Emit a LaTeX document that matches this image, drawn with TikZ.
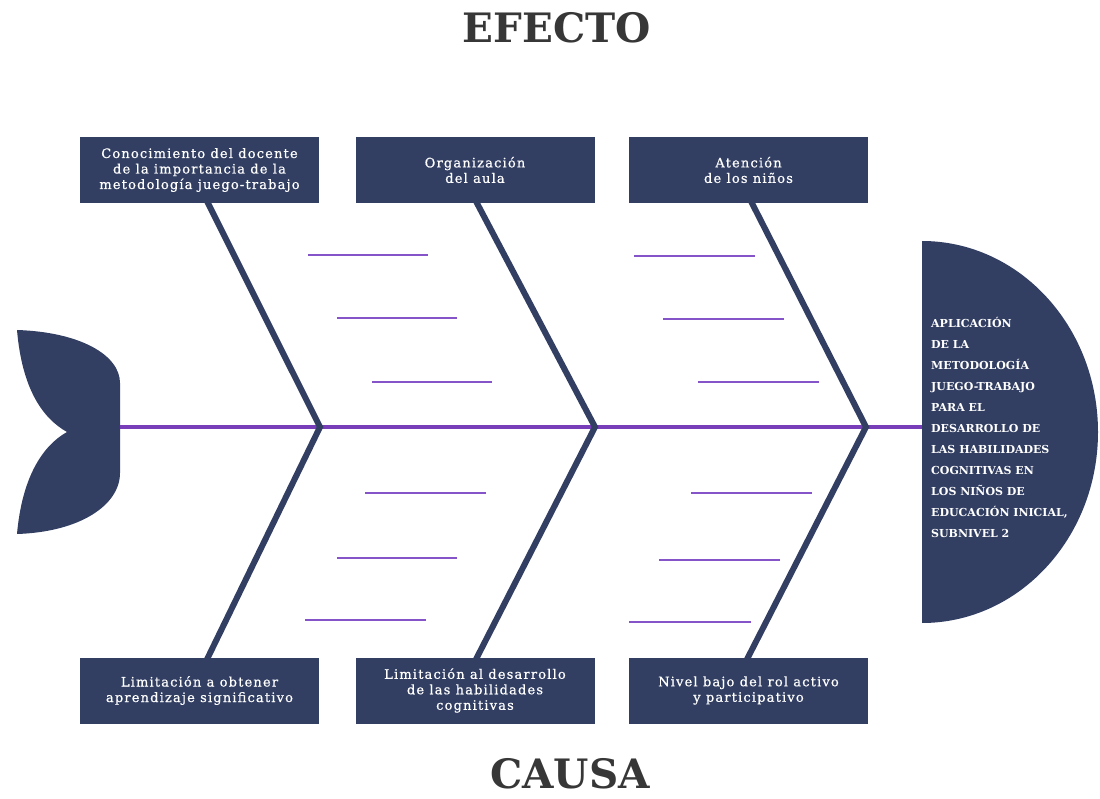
\documentclass[tikz,border=0pt]{standalone}
\usepackage{fontspec}
\setmainfont{DejaVu Serif}
\newfontfamily\boxfont{DejaVu Serif}[LetterSpace=9,FakeBold=0.6]
\newfontfamily\headfont{DejaVu Serif Bold}
\usetikzlibrary{positioning}
\definecolor{navy}{RGB}{50,63,99}
\definecolor{fishpurple}{RGB}{120,62,185}
\definecolor{ribpurple}{RGB}{132,84,200}
\definecolor{titlegray}{RGB}{55,55,55}
\tikzset{box/.style={fill=navy,text=white,minimum width=239pt,minimum height=66pt,inner sep=0pt,align=center,font=\boxfont\fontsize{13}{15.5}\selectfont}}
\tikzset{bone/.style={navy,line width=6pt,line join=miter,shorten <=-4pt,shorten >=-4pt}}
\tikzset{spine/.style={fishpurple,line width=4.5pt}}
\tikzset{rib/.style={ribpurple,line width=2.2pt}}
\tikzset{bigtitle/.style={titlegray,font=\bfseries\fontsize{40.5}{41}\selectfont,inner sep=0pt,anchor=base}}
\tikzset{headtxt/.style={text=white,font=\headfont\fontsize{11}{13}\selectfont,inner sep=0pt,anchor=base west}}

\begin{document}
\begin{tikzpicture}[x=1pt,y=1pt]
  \useasboundingbox (0,0) rectangle (1100,-799);
  % titulos
  \node[bigtitle] (efecto) at (557,-43) {EFECTO};
  \node[bigtitle] (causa) at (570,-788) {CAUSA};
  % cola y cabeza
  \fill[navy] (17,-330) .. controls (80,-332) and (120,-355) .. (120,-383) -- (120,-473)
    .. controls (120,-505) and (80,-532) .. (17,-534)
    .. controls (22,-478) and (42,-446) .. (67,-432)
    .. controls (42,-418) and (22,-388) .. cycle;
  \fill[navy] (922,-241) arc[start angle=90,end angle=-90,x radius=176pt,y radius=191pt] -- cycle;
  % espina
  \coordinate (tail) at (120,-427);
  \coordinate (head) at (922,-427);
  \coordinate (j1) at (320,-427);
  \coordinate (j2) at (595,-427);
  \coordinate (j3) at (866,-427);
  \draw[spine] (tail) -- (j1) -- (j2) -- (j3) -- (head);
  % ramas
  \foreach \xa/\xb/\y in {308/428/255, 337/457/318, 372/492/382, 634/755/256, 663/784/319, 698/819/382,
    365/486/493, 337/457/558, 305/426/620, 691/812/493, 659/780/560, 629/751/622}
    \draw[rib] (\xa,-\y) -- (\xb,-\y);
  % causas
  \node[box] (c1) at (199.5,-170) {Conocimiento del docente\\de la importancia de la\\metodología juego-trabajo};
  \node[box] (c2) at (475,-170) {Organización\\del aula};
  \node[box] (c3) at (748.5,-170) {Atención\\de los niños};
  \node[box] (c4) at (199.5,-690.5) {Limitación a obtener\\aprendizaje significativo};
  \node[box] (c5) at (475,-690.5) {Limitación al desarrollo\\de las habilidades\\cognitivas};
  \node[box] (c6) at (748.5,-690.5) {Nivel bajo del rol activo\\y participativo};
  % huesos
  \draw[bone] ([xshift=8.5pt]c1.south) -- (j1) -- ([xshift=8.5pt]c4.north);
  \draw[bone] ([xshift=2pt]c2.south) -- (j2) -- ([xshift=2pt]c5.north);
  \draw[bone] ([xshift=3.5pt]c3.south) -- (j3) -- ([xshift=-0.5pt]c6.north);
  % efecto
  \foreach \t [count=\i] in {APLICACIÓN, DE LA, METODOLOGÍA, JUEGO-TRABAJO, PARA EL, DESARROLLO DE,
    LAS HABILIDADES, COGNITIVAS EN, LOS NIÑOS DE, {EDUCACIÓN INICIAL,}, SUBNIVEL 2}
    \node[headtxt] (h\i) at (931,{-328-20.9*(\i-1)}) {\t};
\end{tikzpicture}
\end{document}
